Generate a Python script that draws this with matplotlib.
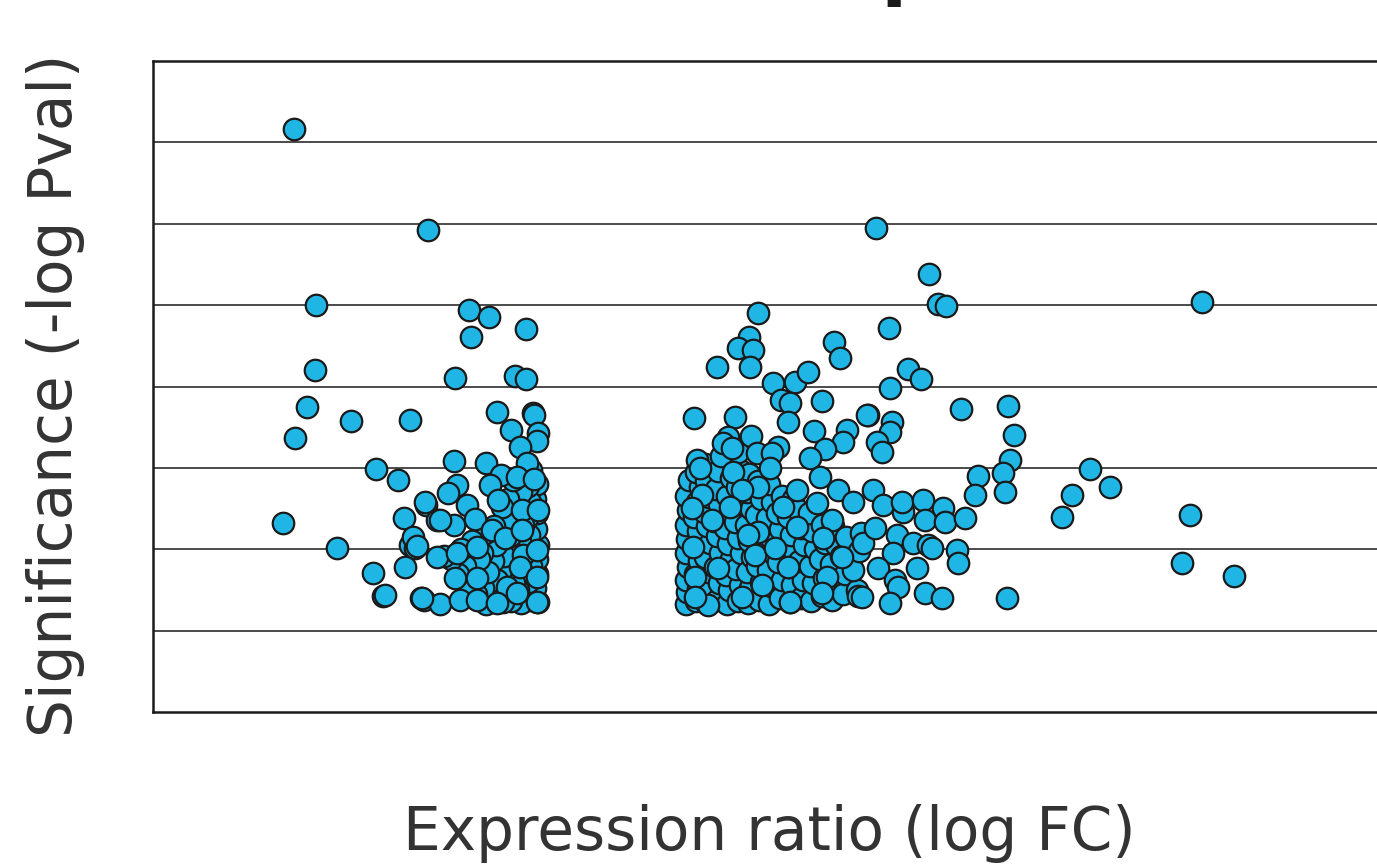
import matplotlib
matplotlib.use("Agg")
import matplotlib.pyplot as plt

# Down-regulated genes: log fold change and -log10 p-value
down_fc = [-4.59, -2.67, -4.27, -4.29, -4.40, -4.57, -4.74, -3.97, -3.77, -3.41,
           -3.10, -2.93, -3.46, -3.31, -3.01, -2.93, -2.86, -3.00, -2.77, -2.73,
           -2.50, -2.70, -2.54, -2.30, -2.29, -2.09, -1.80, -2.06, -1.27, -1.69,
           -1.43, -1.27, -1.49, -1.17, -1.16, -1.10, -1.11, -1.36, -1.26, -1.84,
           -1.63, -1.40, -1.16, -1.79, -2.26, -2.39, -2.71, -2.50, -2.11, -2.00,
           -1.67, -1.33, -1.10, -1.76, -1.57, -1.33, -2.89, -2.83, -2.54, -2.26,
           -1.97, -1.31, -1.11, -2.29, -1.97, -1.54, -1.36, -1.11, -3.29, -2.76,
           -2.21, -1.97, -1.69, -1.11, -1.40]
down_sig = [7.16, 5.92, 5.00, 4.20, 3.75, 3.37, 2.32, 2.01, 3.57, 2.99,
            2.85, 3.59, 1.71, 1.43, 2.38, 2.05, 2.01, 1.78, 1.40, 1.38,
            1.33, 2.54, 2.36, 3.08, 4.10, 4.94, 4.86, 4.61, 4.71, 3.69,
            4.13, 4.09, 3.46, 3.67, 3.65, 3.43, 3.33, 3.26, 3.06, 3.06,
            2.91, 2.89, 2.86, 2.79, 2.79, 2.69, 2.58, 2.36, 2.54, 2.37,
            2.60, 2.48, 2.48, 2.24, 2.14, 2.24, 2.15, 2.04, 1.90, 1.95,
            2.03, 1.93, 1.99, 1.65, 1.65, 1.54, 1.78, 1.66, 1.44, 1.40,
            1.38, 1.38, 1.34, 1.35, 1.46]

# dense core of the down-regulated group
down_core_fc = [-1.10, -1.14, -1.11, -1.12, -1.10, -1.13, -1.11, -1.15, -1.12,
                -1.22, -1.25, -1.20, -1.28, -1.23, -1.26, -1.21, -1.24, -1.20,
                -1.35, -1.38, -1.33, -1.40, -1.36, -1.32, -1.39, -1.34,
                -1.48, -1.45, -1.52, -1.47, -1.50, -1.44, -1.53, -1.46,
                -1.60, -1.57, -1.63, -1.58, -1.62, -1.56, -1.61,
                -1.72, -1.68, -1.75, -1.70, -1.73,
                -1.84, -1.88, -1.82, -1.90, -1.86,
                -1.98, -2.02, -1.95, -2.05,
                -2.12, -2.15, -2.20, -2.25, -2.35, -2.45, -2.30]
down_core_sig = [1.35, 1.52, 1.70, 1.88, 2.05, 2.25, 2.45, 2.62, 2.80,
                 1.38, 1.60, 1.80, 1.98, 2.18, 2.38, 2.58, 2.78, 2.98,
                 1.34, 1.50, 1.72, 1.90, 2.10, 2.30, 2.50, 2.70,
                 1.36, 1.58, 1.78, 1.97, 2.16, 2.40, 2.62, 2.85,
                 1.35, 1.55, 1.75, 1.92, 2.12, 2.32, 2.52,
                 1.40, 1.62, 1.85, 2.05, 2.28,
                 1.33, 1.52, 1.72, 1.95, 2.20,
                 1.45, 1.68, 1.88, 2.10,
                 1.55, 1.80, 2.00, 1.70, 1.88, 1.92, 2.30]

# Up-regulated genes
up_fc = [2.04, 1.91, 1.76, 1.97, 1.93, 1.46, 3.13, 3.21, 2.26, 2.57,
         2.76, 2.37, 2.50, 2.96, 2.47, 1.13, 1.71, 3.61, 2.84, 3.31,
         3.26, 3.00, 1.94, 1.61, 1.54, 1.67, 2.03, 2.33, 2.24, 2.79,
         1.17, 1.21, 1.69, 2.21, 2.93, 2.60, 2.04, 1.81, 1.24, 3.19,
         3.40, 2.89, 2.40, 1.64, 1.10, 1.39, 2.04, 2.60, 3.10, 1.90,
         1.11, 2.00, 2.29, 2.97, 3.24, 3.54, 1.47, 2.47, 3.03, 1.14,
         1.81, 1.33, 2.50, 2.96, 3.47, 2.10, 1.14,
         3.73, 4.49, 4.61, 4.73, 3.91, 4.19, 4.37, 3.93, 3.60, 3.96,
         3.93, 3.74, 3.81, 4.94, 5.61, 5.70, 5.64, 5.54, 5.19, 5.14,
         5.57, 3.69, 3.83, 4.11, 4.10, 4.40, 4.69, 4.43, 4.71, 5.00,
         3.71, 4.03, 4.26, 4.47, 4.53, 4.89, 4.90, 3.97, 3.76, 4.31,
         4.00, 4.04, 4.43, 4.67, 3.93, 5.60, 3.53,
         6.39, 6.53, 6.79, 7.07, 8.21, 8.10, 8.84, 8.39]
up_sig = [4.90, 4.61, 4.47, 4.45, 4.24, 4.24, 4.55, 4.35, 4.04, 4.05,
          4.18, 3.83, 3.80, 3.82, 3.56, 3.61, 3.62, 3.65, 3.45, 3.46,
          3.32, 3.23, 3.39, 3.38, 3.30, 3.24, 3.18, 3.26, 3.18, 3.12,
          3.10, 3.00, 2.95, 3.00, 2.89, 2.73, 2.76, 2.73, 2.67, 2.73,
          2.58, 2.57, 2.52, 2.52, 2.51, 2.36, 2.21, 2.27, 2.36, 2.17,
          2.03, 1.93, 2.01, 2.14, 1.90, 2.08, 1.77, 1.78, 1.66, 1.66,
          1.41, 1.31, 1.35, 1.46, 1.43, 1.56, 1.41,
          5.95, 5.38, 5.01, 4.99, 4.72, 4.21, 4.09, 3.98, 3.65, 3.56,
          3.44, 3.32, 3.19, 3.72, 3.76, 3.40, 3.10, 2.94, 2.90, 2.67,
          2.70, 2.73, 2.54, 2.46, 2.58, 2.60, 2.51, 2.36, 2.33, 2.38,
          2.26, 2.17, 2.08, 2.05, 2.01, 1.99, 1.83, 1.95, 1.77, 1.77,
          1.62, 1.54, 1.46, 1.40, 1.34, 1.40, 1.41,
          2.40, 2.67, 2.99, 2.76, 2.42, 1.83, 1.67, 5.04]

# dense core of the up-regulated group
up_core_fc = [1.02, 1.03, 1.01, 1.04, 1.02, 1.03, 1.01, 1.04, 1.02, 1.05,
              1.15, 1.18, 1.14, 1.20, 1.16, 1.19, 1.13, 1.17, 1.21, 1.15,
              1.30, 1.28, 1.33, 1.29, 1.35, 1.31, 1.27, 1.34, 1.30, 1.28,
              1.45, 1.48, 1.43, 1.50, 1.46, 1.42, 1.49, 1.44, 1.47, 1.52,
              1.60, 1.63, 1.58, 1.65, 1.61, 1.57, 1.64, 1.60, 1.66,
              1.75, 1.78, 1.73, 1.80, 1.76, 1.72, 1.79, 1.74, 1.78, 1.76,
              1.90, 1.93, 1.88, 1.95, 1.91, 1.87, 1.94, 1.89, 1.92,
              2.05, 2.08, 2.03, 2.10, 2.06, 2.02, 2.09, 2.04,
              2.20, 2.23, 2.18, 2.25, 2.21, 2.17, 2.24, 2.20,
              2.35, 2.38, 2.33, 2.40, 2.36, 2.32, 2.39,
              2.50, 2.53, 2.48, 2.55, 2.51, 2.47, 2.54,
              2.65, 2.68, 2.63, 2.70, 2.66, 2.62,
              2.80, 2.83, 2.78, 2.85, 2.81, 2.77,
              2.95, 2.98, 2.93, 3.00, 2.96,
              3.10, 3.13, 3.08, 3.15, 3.11,
              3.25, 3.28, 3.23, 3.30,
              3.45, 3.40, 3.48, 3.52]
up_core_sig = [1.33, 1.48, 1.62, 1.78, 1.95, 2.12, 2.30, 2.48, 2.66, 2.85,
               1.36, 1.52, 1.70, 1.86, 2.04, 2.22, 2.40, 2.58, 2.76, 2.95,
               1.34, 1.55, 1.72, 1.90, 2.08, 2.28, 2.46, 2.64, 2.84, 3.05,
               1.38, 1.58, 1.78, 1.96, 2.16, 2.35, 2.55, 2.74, 2.96, 3.15,
               1.33, 1.50, 1.68, 1.88, 2.06, 2.26, 2.46, 2.66, 2.88,
               1.36, 1.56, 1.76, 1.95, 2.14, 2.34, 2.55, 2.76, 2.98, 3.20,
               1.34, 1.52, 1.72, 1.90, 2.10, 2.30, 2.50, 2.70, 2.92,
               1.38, 1.60, 1.80, 2.00, 2.20, 2.42, 2.62, 2.84,
               1.33, 1.55, 1.75, 1.95, 2.15, 2.38, 2.58, 2.80,
               1.40, 1.62, 1.84, 2.05, 2.25, 2.45, 2.66,
               1.35, 1.56, 1.78, 1.98, 2.18, 2.40, 2.62,
               1.40, 1.62, 1.85, 2.05, 2.26, 2.48,
               1.36, 1.58, 1.80, 2.00, 2.22, 2.44,
               1.42, 1.65, 1.88, 2.08, 2.30,
               1.38, 1.60, 1.82, 2.05, 2.28,
               1.45, 1.70, 1.92, 2.15,
               1.50, 1.75, 1.98, 2.20]

fill_color = '#1fb5e5'
edge_color = '#1a1a1a'

fig = plt.figure(figsize=(13.77, 8.67), dpi=100)
# the plot area runs a little past the right edge of the picture
ax = fig.add_axes([153 / 1377, 155 / 867, 1232 / 1377, 651 / 867])

# grid lines at every unit of significance
for yv in range(1, 8):
    ax.axhline(yv, color='#1a1a1a', linewidth=1.1, zorder=1)

dot_style = dict(s=240, c=fill_color, edgecolors=edge_color, linewidths=1.6, zorder=3)
ax.scatter(down_core_fc, down_core_sig, **dot_style)
ax.scatter(up_core_fc, up_core_sig, **dot_style)
ax.scatter(down_fc, down_sig, **dot_style)
ax.scatter(up_fc, up_sig, **dot_style)

ax.set_xlim(-6.6, 11.0)
ax.set_ylim(0, 8)
ax.set_xticks([])
ax.set_yticks([])
for side in ['left', 'bottom', 'top']:
    ax.spines[side].set_linewidth(1.8)
    ax.spines[side].set_color('#1a1a1a')
ax.spines['right'].set_visible(False)

ax.set_xlabel('Expression ratio (log FC)', fontsize=43, color='#333333', labelpad=66)
ax.set_ylabel('Significance (-log Pval)', fontsize=43, color='#333333', labelpad=50)
ax.yaxis.set_label_coords(-0.055, 0.487)

# title sits above the visible area, only the descender of "p" peeks in
fig.text(786 / 1377, 1 + 9 / 867, 'Volcano plot', ha='center', va='baseline',
         fontsize=54, fontweight='bold', color='#1a1a1a')

plt.savefig('out.png', dpi=100)
plt.close()
